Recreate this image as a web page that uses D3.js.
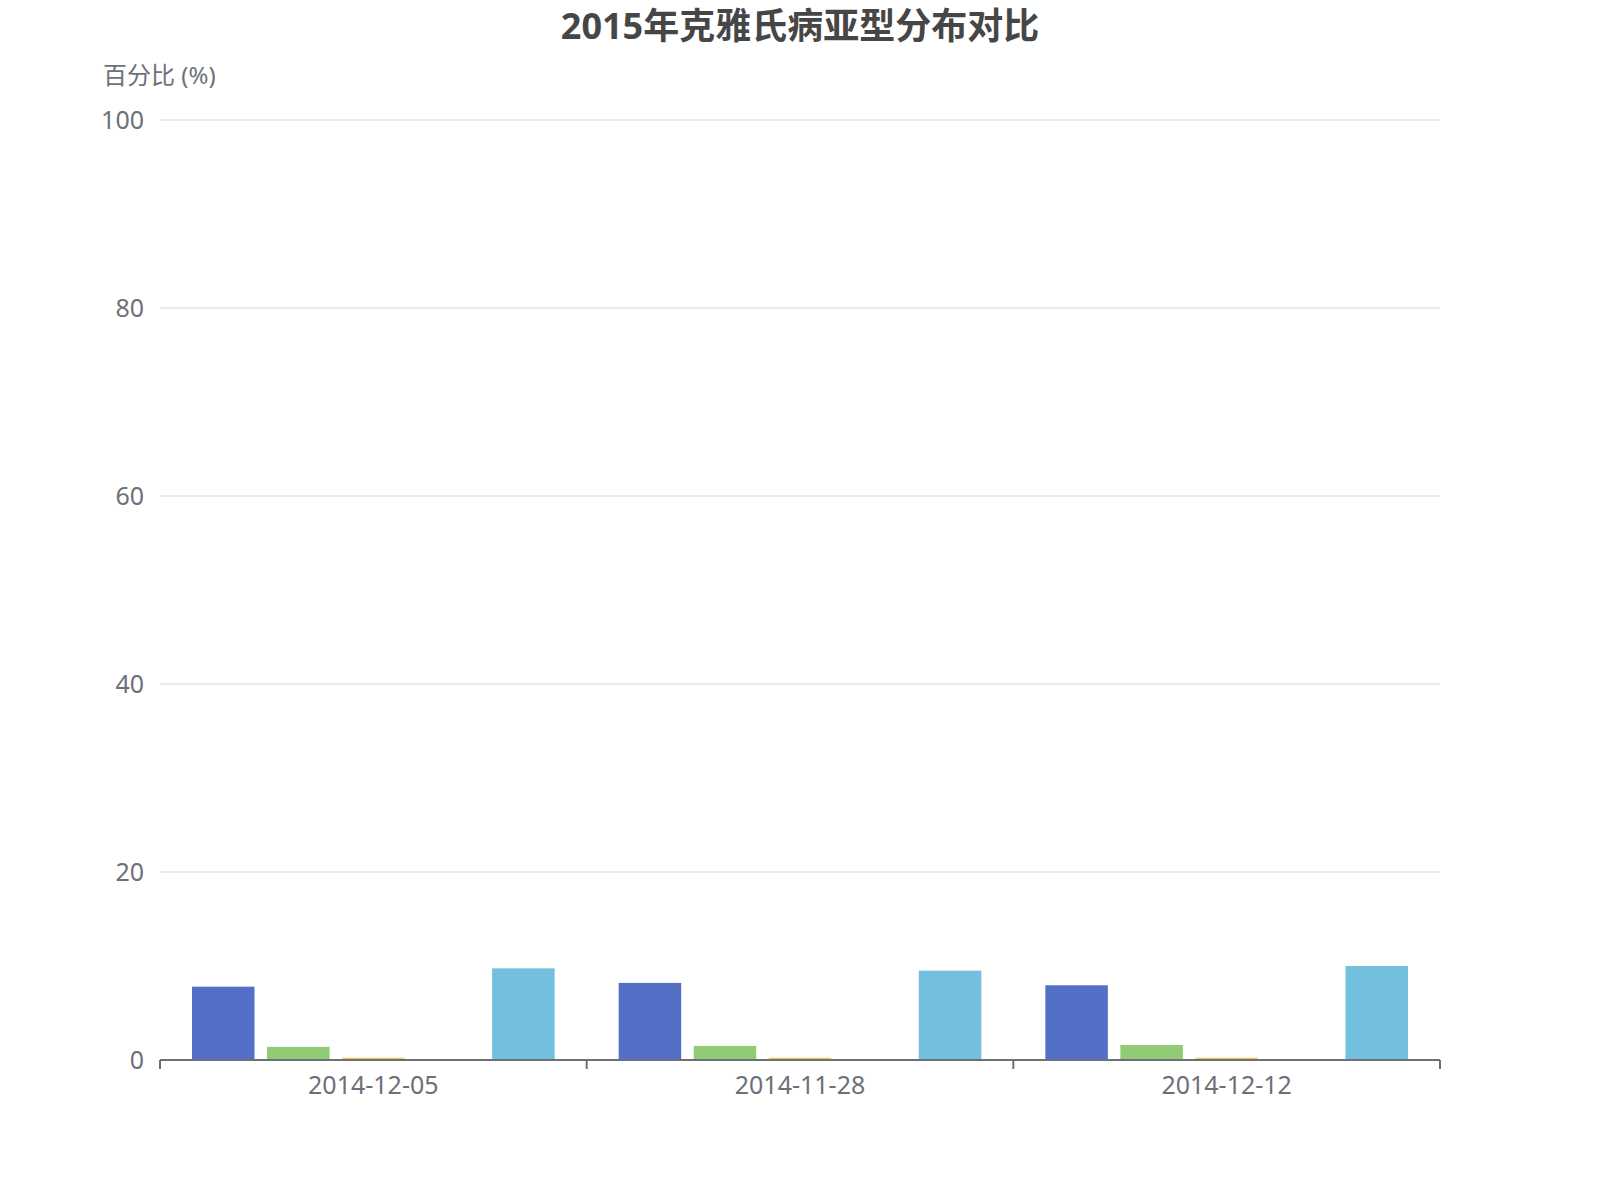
<!DOCTYPE html>
<html><head><meta charset="utf-8">
<script src="https://cdn.jsdelivr.net/npm/d3@7/dist/d3.min.js"></script>
<style>body{margin:0;background:#fff;}svg{display:block;}</style>
</head><body>
<script>
const categories = ["2014-12-05", "2014-11-28", "2014-12-12"];
const seriesNames = ["散发型", "家族型", "医源型", "变异型", "其他"];
const seriesColors = ["#5470c6", "#91cc75", "#fac858", "#ee6666", "#73c0de"];
const seriesValues = [
  [7.8, 8.2, 7.95],
  [1.4, 1.5, 1.6],
  [0.25, 0.25, 0.25],
  [0, 0, 0],
  [9.75, 9.5, 10.0]
];
const yTicks = [0, 20, 40, 60, 80, 100];
const titleText = "2015年克雅氏病亚型分布对比";
const yAxisName = "百分比 (%)";

const W = 1600, H = 1200;
const m = {left: 160, right: 160, top: 120, bottom: 140};
const font = "'Noto Sans','Noto Sans CJK SC',sans-serif";

const svg = d3.select("body").append("svg").attr("width", W).attr("height", H);

const x = d3.scaleBand().domain(categories).range([m.left, W - m.right]).paddingInner(0).paddingOuter(0);
const y = d3.scaleLinear().domain([0, 100]).range([H - m.bottom, m.top]);

const bw = x.bandwidth();
const nS = seriesNames.length;
const catGap = 0.15;
const barGap = 0.2;
const barW = bw * (1 - catGap) / (nS + (nS - 1) * barGap);
const x1 = i => (bw * catGap / 2) + i * barW * (1 + barGap);

// grid
svg.append("g").selectAll("line").data(yTicks.filter(t => t > 0)).join("line")
  .attr("x1", m.left).attr("x2", W - m.right)
  .attr("y1", d => y(d)).attr("y2", d => y(d))
  .attr("stroke", "#e0e6f1").attr("stroke-width", 1.5);

// y labels
svg.append("g").selectAll("text").data(yTicks).join("text")
  .attr("x", m.left - 16).attr("y", d => y(d)).attr("dy", "0.35em")
  .attr("text-anchor", "end").attr("font-family", font).attr("font-size", 25)
  .attr("fill", "#6e7079").text(d => d);

// bars
seriesNames.forEach((name, si) => {
  svg.append("g").selectAll("rect").data(seriesValues[si]).join("rect")
    .attr("x", (d, ci) => x(categories[ci]) + x1(si))
    .attr("width", barW)
    .attr("y", d => y(d))
    .attr("height", d => y(0) - y(d))
    .attr("fill", seriesColors[si]);
});

// x axis
const gx = svg.append("g").attr("transform", `translate(0,${y(0)})`);
gx.append("line").attr("x1", m.left).attr("x2", W - m.right).attr("y1", 0).attr("y2", 0)
  .attr("stroke", "#6e7079").attr("stroke-width", 2);
const bounds = categories.map(c => x(c)).concat([x(categories[categories.length - 1]) + bw]);
gx.selectAll("line.tick").data(bounds).join("line").attr("class", "tick")
  .attr("x1", d => d).attr("x2", d => d).attr("y1", 0).attr("y2", 9)
  .attr("stroke", "#6e7079").attr("stroke-width", 2);
gx.selectAll("text").data(categories).join("text")
  .attr("x", d => x(d) + bw / 2).attr("y", 34)
  .attr("text-anchor", "middle").attr("font-family", font).attr("font-size", 25)
  .attr("fill", "#6e7079").text(d => d);

// axis name
svg.append("text").attr("x", 103).attr("y", 84)
  .attr("font-family", font).attr("font-size", 24).attr("fill", "#6e7079").text(yAxisName);

// title
svg.append("text").attr("x", W / 2).attr("y", 39)
  .attr("text-anchor", "middle").attr("font-family", font).attr("font-size", 36)
  .attr("font-weight", "bold").attr("fill", "#464646").text(titleText);
</script>
</body></html>
